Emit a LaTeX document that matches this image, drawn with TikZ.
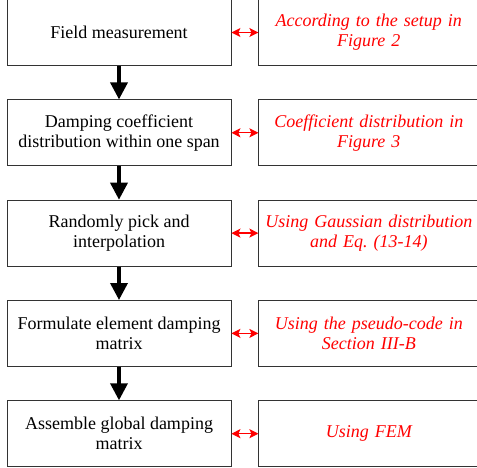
\documentclass[tikz,border=0pt]{standalone}
\usepackage{xcolor}
\usepackage{fontspec}
\setmainfont{Liberation Serif}
\usepackage{tikz}
\usetikzlibrary{chains, positioning, arrows.meta}

\begin{document}
\begin{tikzpicture}[
    x = 1pt, y = 1pt,
    node distance = 33.5pt and 27pt,
    start chain = going below,
    flowarrow/.style = {-{Triangle[length=17pt,width=17pt]}, line width=3.5pt},
    linkarrow/.style = {{Stealth[length=9pt,width=9pt,inset=2pt]}-{Stealth[length=9pt,width=9pt,inset=2pt]},
        red, line width=1.3pt},
    stepbox/.style = {
        draw=black!80, rectangle, line width=0.8pt, minimum width=224pt, minimum height=66pt,
        align=center, font=\fontsize{18}{20}\selectfont,
        on chain, join=by flowarrow
    },
    notebox/.style = {
        draw=black!80, rectangle, line width=0.8pt, minimum width=220pt, minimum height=66pt,
        text width=212pt, align=center, text=red, font=\fontsize{18}{20}\selectfont\itshape
    }
  ]
    \useasboundingbox (0,0) rectangle (477,-468);
    % main steps
    \node[stepbox] (s1) at (119,-32.5) {Field measurement};
    \node[stepbox] (s2) {Damping coefficient\\distribution within one span};
    \node[stepbox] (s3) {Randomly pick and\\interpolation};
    \node[stepbox] (s4) {Formulate element damping\\matrix};
    \node[stepbox] (s5) {Assemble global damping\\matrix};
    % notes on the right
    \node[notebox, right=of s1] (n1) {According to the setup in\\Figure 2};
    \node[notebox, right=of s2] (n2) {Coefficient distribution in\\Figure 3};
    \node[notebox, right=of s3] (n3) {Using Gaussian distribution\\and Eq.\ (13-14)};
    \node[notebox, right=of s4] (n4) {Using the pseudo-code in\\Section III-B};
    \node[notebox, right=of s5] (n5) {Using FEM};
    \foreach \i in {1,...,5}
        \draw[linkarrow] (s\i) -- (n\i);
\end{tikzpicture}
\end{document}
